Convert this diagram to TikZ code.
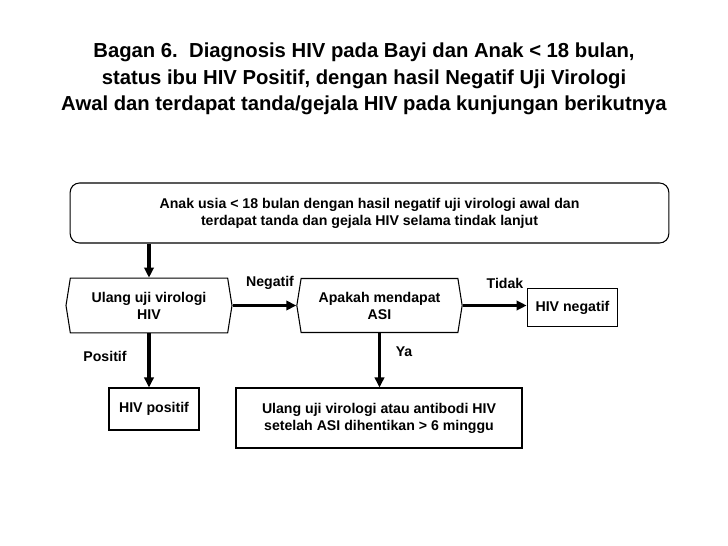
\documentclass[tikz,border=0pt]{standalone}
\usepackage{fontspec}
\setmainfont{Liberation Sans}
\usetikzlibrary{arrows.meta,shapes.symbols}
\tikzset{
  flowbox/.style={draw, line width=0.8pt, align=center, font=\bfseries\fontsize{10.6}{12.8}\selectfont},
  testbox/.style={flowbox, shape=signal, signal to=west and east, signal pointer angle=162, inner xsep=2pt},
  flowarrow/.style={line width=2.3pt, -{Triangle[length=7.5pt,width=7pt]}},
  flowlabel/.style={font=\bfseries\fontsize{10.6}{12.8}\selectfont}
}
\begin{document}
\begin{tikzpicture}[x=0.75pt, y=-0.75pt]
  \useasboundingbox (0,0) rectangle (728,546);
  \node[align=center, font=\bfseries\fontsize{15.2}{20}\selectfont] (title) at (364,79)
    {Bagan 6.\ \ Diagnosis HIV pada Bayi dan Anak < 18 bulan,\\
     status ibu HIV Positif, dengan hasil Negatif Uji Virologi\\
     Awal dan terdapat tanda/gejala HIV pada kunjungan berikutnya};
  \node[flowbox, rounded corners=7pt, minimum width=449pt, minimum height=45pt] (child) at (369.5,213)
    {Anak usia < 18 bulan dengan hasil negatif uji virologi awal dan\\terdapat tanda dan gejala HIV selama tindak lanjut};
  \node[testbox, minimum width=124.5pt, minimum height=41pt] (retest) at (149,305.5) {Ulang uji virologi\\HIV};
  \node[testbox, minimum width=124pt, minimum height=40.5pt] (breastfed) at (379.5,305.5) {Apakah mendapat\\ASI};
  \node[flowbox, minimum width=68pt, minimum height=29pt] (negative) at (572.5,307.5) {HIV negatif};
  \node[flowbox, minimum width=67.5pt, minimum height=31.5pt] (positive) at (154,409) {HIV positif};
  \node[flowbox, minimum width=214.5pt, minimum height=45pt] (retestlater) at (379,418)
    {Ulang uji virologi atau antibodi HIV\\setelah ASI dihentikan > 6 minggu};
  % connectors
  \draw[flowarrow] (child.south -| retest.north) -- (retest.north);
  \draw[flowarrow] (retest.east) -- (breastfed.west);
  \draw[flowarrow] (breastfed.east) -- (breastfed.east -| negative.west);
  \draw[flowarrow] (retest.south) -- (retest.south |- positive.north);
  \draw[flowarrow] (breastfed.south) -- (breastfed.south |- retestlater.north);
  % labels
  \node[flowlabel] (lblneg) at (270,283) {Negatif};
  \node[flowlabel] (lblno) at (505,283) {Tidak};
  \node[flowlabel] (lblpos) at (105,356) {Positif};
  \node[flowlabel] (lblyes) at (404,352) {Ya};
\end{tikzpicture}
\end{document}
